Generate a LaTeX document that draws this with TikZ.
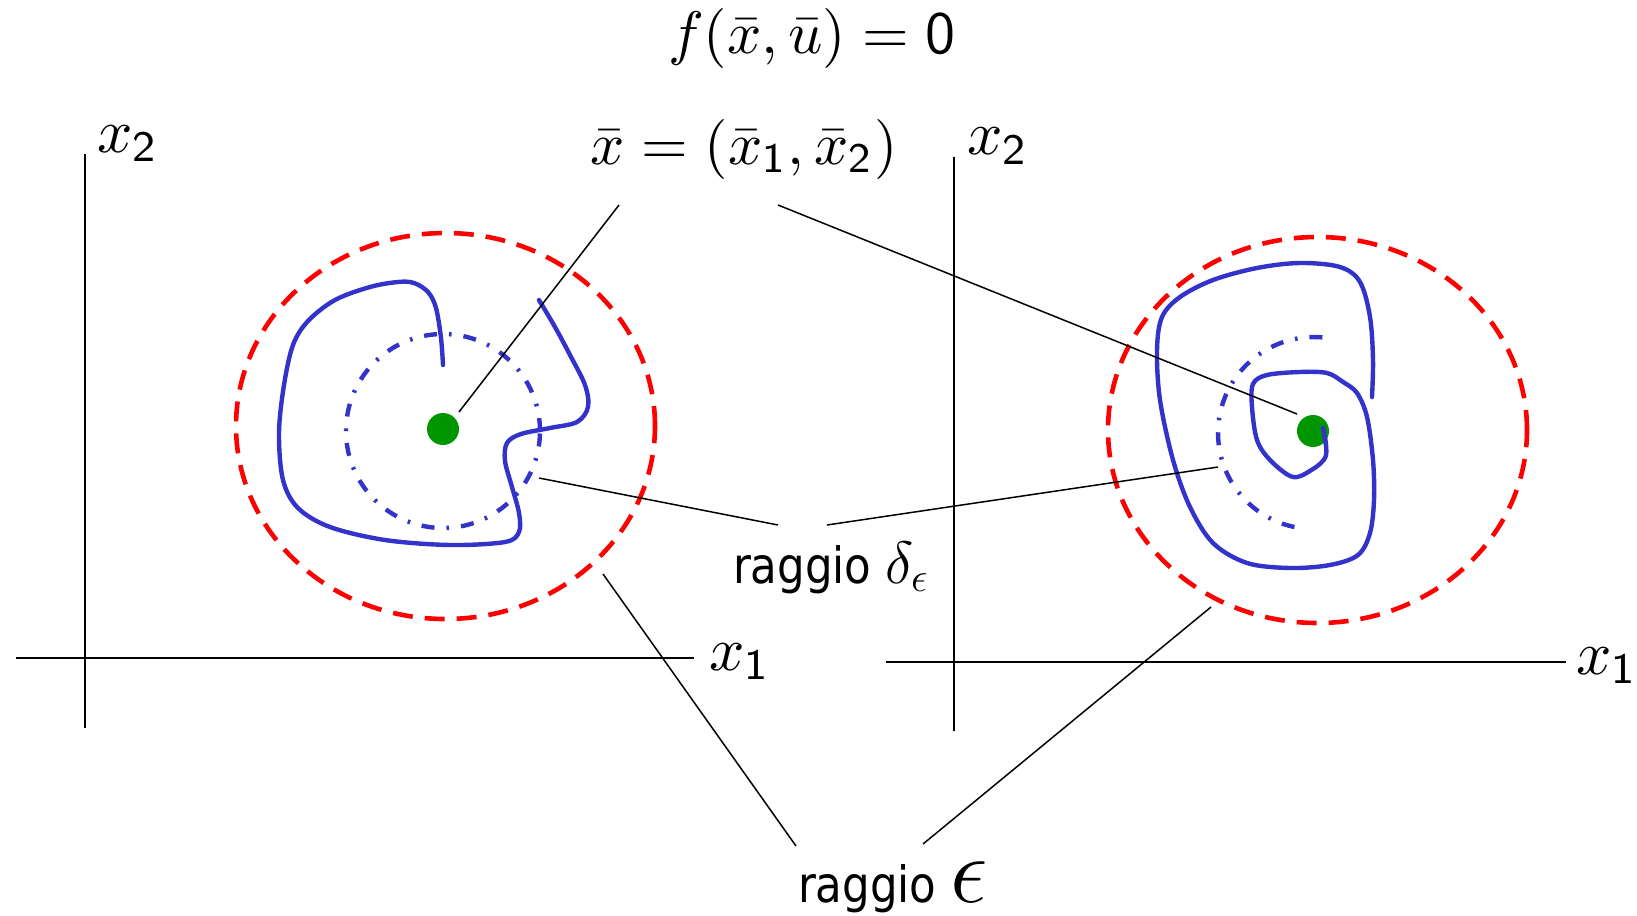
\documentclass[tikz,border=0pt]{standalone}
\usepackage{graphicx}
\usepackage{fontspec}
\newfontfamily\rfont[FakeStretch=0.87]{DejaVu Sans}
\definecolor{cred}{RGB}{255,0,0}
\definecolor{cblue}{RGB}{51,51,204}
\definecolor{cgreen}{RGB}{0,150,0}
\begin{document}
\begin{tikzpicture}[x=0.5pt,y=-0.5pt,
  lbl/.style={inner sep=0pt,outer sep=0pt},
  axisline/.style={black,line width=0.9pt},
  conn/.style={black,line width=0.75pt},
  reddash/.style={cred,line width=2.3pt,dash pattern=on 10pt off 6pt},
  bluesolid/.style={cblue,line width=2.2pt,line cap=round,line join=round},
  bluedashdot/.style={cblue,line width=2.2pt,dash pattern=on 6.5pt off 6pt on 1.3pt off 6pt},
  gdot/.style={circle,fill=cgreen,draw=none,minimum size=16pt,inner sep=0pt}]
\useasboundingbox (0,0) rectangle (1637,915);

% labels
\node[lbl,anchor=base] (feq) at (812,54) {\scalebox{3}{$f(\bar x,\bar u)=\mathsf{0}$}};
\node[lbl,anchor=base] (xbar) at (744,164) {\scalebox{3}{$\bar x=(\bar x_{\mathsf{1}},\bar x_{\mathsf{2}})$}};
\node[lbl,anchor=base west] (x2L) at (97,152) {\scalebox{3.1}{$x_{\mathsf{2}}$}};
\node[lbl,anchor=base west] (x2R) at (967,155) {\scalebox{3.1}{$x_{\mathsf{2}}$}};
\node[lbl,anchor=base west] (x1L) at (709,670) {\scalebox{3.1}{$x_{\mathsf{1}}$}};
\node[lbl,anchor=base west] (x1R) at (1576,674) {\scalebox{3.1}{$x_{\mathsf{1}}$}};
\node[lbl,anchor=base west] (rd) at (733,583) {\fontsize{25}{28}\rfont raggio \scalebox{1.2}{$\delta_\epsilon$}};
\node[lbl,anchor=base west] (re) at (798,902) {\fontsize{25}{28}\rfont raggio \scalebox{1.9}{$\epsilon$}};

% axes
\coordinate (aL1) at (84.6,153.5); \coordinate (aL2) at (84.6,727.7);
\coordinate (aL3) at (15.7,657.7); \coordinate (aL4) at (694,657.7);
\coordinate (aR1) at (954,156.6); \coordinate (aR2) at (954,731);
\coordinate (aR3) at (886,662); \coordinate (aR4) at (1566,662);
\draw[axisline] (aL1) -- (aL2);
\draw[axisline] (aL3) -- (aL4);
\draw[axisline] (aR1) -- (aR2);
\draw[axisline] (aR3) -- (aR4);

% left region
\draw[reddash] (445.5,426) ellipse [x radius=104.75pt, y radius=96.5pt];
\draw[bluedashdot] (443,431) circle [radius=48.5pt];
\draw[bluesolid] plot[smooth,tension=0.55] coordinates {
 (443,365) (441,338) (436,308) (428,292) (414,283) (398,282) (370,287) (335,300)
 (308,321) (293,345) (284,385) (279,433) (283,480) (298,508) (330,527) (385,540)
 (450,545) (505,542) (519,532) (519,513) (512,487) (505,461) (507,443) (521,434)
 (550,428) (577,422) (588,407) (585,385) (570,355) (555,327) (539,300)};
\node[gdot] (dL) at (443,429) {};

% right region
\draw[reddash] (1317.5,430) ellipse [x radius=104.75pt, y radius=96.5pt];
\draw[bluedashdot] (1322.4,337.4) arc[start angle=85,end angle=260,radius=48pt];
\draw[bluesolid] plot[smooth,tension=0.55] coordinates {
 (1372,397) (1373,360) (1370,317) (1360,282) (1340,267) (1300,263) (1257,268)
 (1213,280) (1180,297) (1162,317) (1157,350) (1160,400) (1173,460) (1190,507)
 (1213,543) (1247,563) (1290,568) (1330,565) (1358,555) (1370,533) (1374,500)
 (1373,460) (1367,417) (1357,393) (1343,382) (1327,373) (1300,372) (1267,375)
 (1253,384) (1252,407) (1257,440) (1270,460) (1293,477) (1313,469) (1325,458)
 (1326,445) (1323,428)};
\node[gdot] (dR) at (1313,431) {};
\draw[bluesolid] (1326,445) -- (1323,428);

% connectors
\coordinate (xa) at (619,205);  \coordinate (xaL) at (459,412);
\coordinate (xb) at (778,205);  \coordinate (xbR) at (1297,414);
\coordinate (da) at (778,525);  \coordinate (daL) at (539,478);
\coordinate (db) at (827,525);  \coordinate (dbR) at (1218,467);
\coordinate (ea) at (796,846);  \coordinate (eaL) at (603,574);
\coordinate (eb) at (923,844);  \coordinate (ebR) at (1211,607);
\draw[conn] (xa) -- (xaL);
\draw[conn] (xb) -- (xbR);
\draw[conn] (da) -- (daL);
\draw[conn] (db) -- (dbR);
\draw[conn] (ea) -- (eaL);
\draw[conn] (eb) -- (ebR);
\end{tikzpicture}
\end{document}
